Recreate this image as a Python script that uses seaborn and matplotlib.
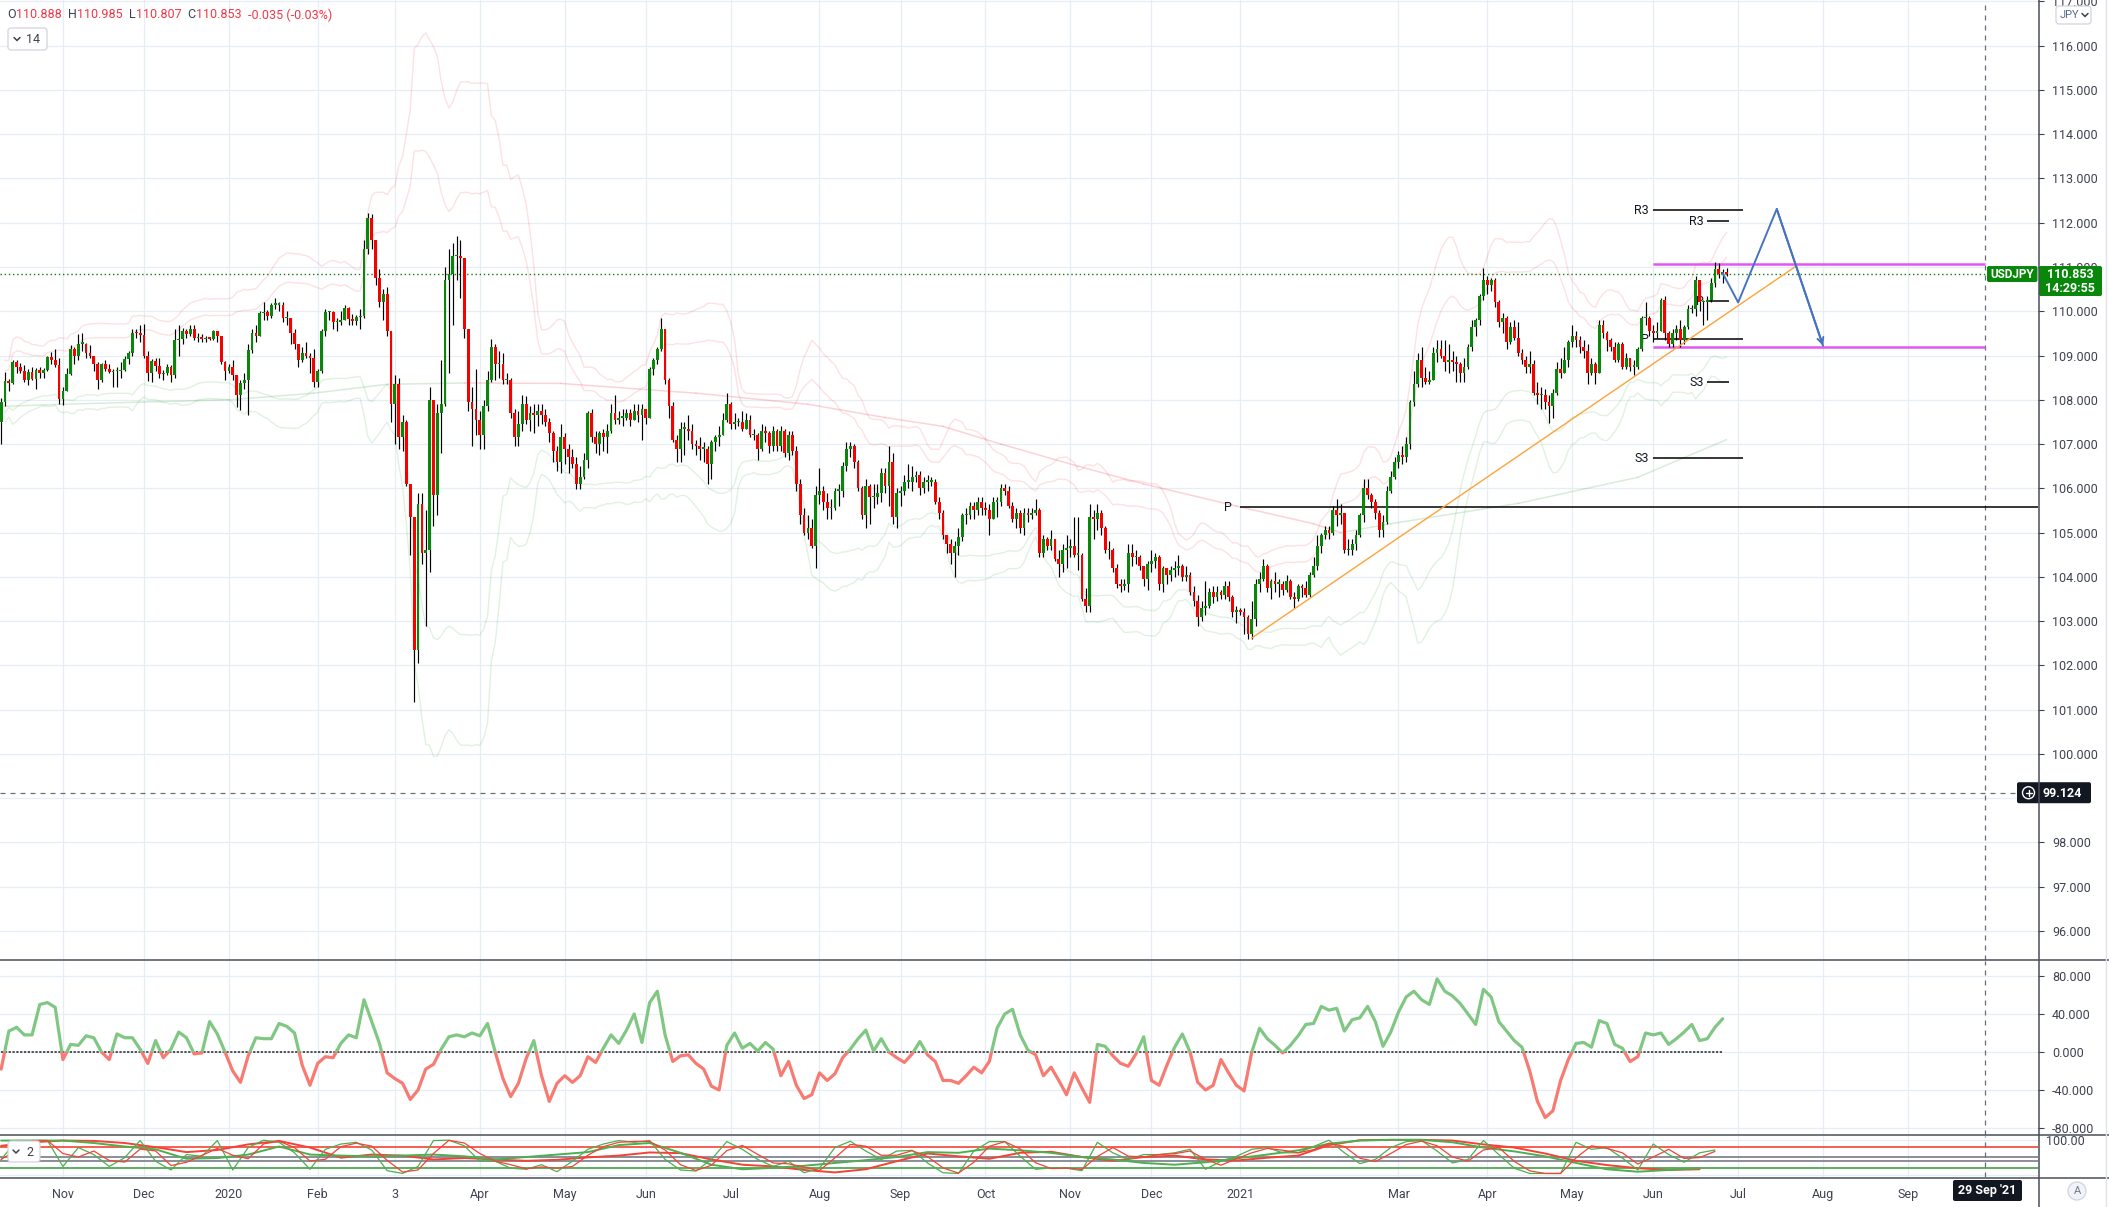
import numpy as np
import pandas as pd
import matplotlib
matplotlib.use("Agg")
import matplotlib.pyplot as plt
from matplotlib.patches import FancyBboxPatch, Rectangle, Circle
import seaborn as sns

# --- Data: USDJPY daily candles ---------------------------------------------
# one row per month, Oct 2019 starts on the 10th, Jun 2021 ends on the 28th
FIRST_SESSION = "2019-10-10"
FIRST_OPEN = 107.50

CLOSE_TXT = """
107.95 108.42 108.38 108.85 108.75 108.66 108.45 108.62 108.48 108.68 108.60 108.68 108.96 108.90 108.78 108.02
108.20 108.58 109.15 108.98 109.27 109.27 109.05 109.00 108.80 108.45 108.80 108.70 108.63 108.64 108.65 108.68 108.93 109.05 109.52 109.50 109.46
109.00 108.60 108.87 108.77 108.58 108.60 108.73 108.56 109.35 109.37 109.56 109.48 109.60 109.40 109.43 109.37 109.40 109.38 109.55 109.45 108.85 108.65
108.75 108.55 108.10 108.38 108.44 109.12 109.50 109.45 109.95 109.98 109.90 110.15 110.15 110.15 109.85 109.85 109.50 109.25 108.90 109.05 109.00 108.95 108.40
108.65 109.55 109.98 109.98 109.75 109.75 109.80 110.08 109.82 109.78 109.87 109.90 111.40 112.10 111.60 110.75 110.20 110.40 109.55 107.90
108.35 107.15 107.50 106.10 105.35 102.35 105.65 104.55 104.60 108.00 105.85 107.70 107.90 110.70 110.85 111.25 111.25 111.20 109.60 107.95 107.80 107.55
107.20 107.85 108.45 109.20 108.80 108.80 108.45 108.45 107.70 107.15 107.45 107.90 107.55 107.70 107.65 107.75 107.65 107.50 107.25 106.85 106.60 107.15
106.90 106.70 106.55 106.10 106.25 106.65 107.70 107.15 107.00 107.25 107.15 107.30 107.70 107.55 107.60 107.60 107.70 107.55 107.75 107.65 107.80
107.60 108.70 108.90 109.15 109.60 108.45 107.85 107.10 106.90 107.35 107.35 107.30 107.00 106.95 106.90 106.90 106.55 107.05 107.15 107.20 107.55 107.90
107.45 107.50 107.50 107.35 107.55 107.20 107.20 106.90 107.30 107.25 106.95 107.30 106.95 107.30 106.80 107.20 106.85 106.10 105.40 105.00 105.10 104.70 105.85
105.95 105.70 105.55 105.55 105.95 105.95 106.50 106.90 106.95 106.60 106.00 105.40 106.05 105.80 105.80 105.90 106.35 106.05 106.60 105.35 105.90
105.95 106.15 106.15 106.25 106.30 106.00 106.15 106.15 106.15 105.70 105.45 104.95 104.75 104.55 104.70 104.90 105.40 105.40 105.60 105.50 105.70 105.55
105.50 105.30 105.70 105.70 106.00 105.95 105.60 105.30 105.45 105.10 105.45 105.40 105.45 105.50 104.55 104.85 104.70 104.85 104.40 104.30 104.60 104.65
104.70 104.50 104.50 103.50 103.35 105.35 105.30 105.45 105.10 104.60 104.60 104.20 103.85 103.80 103.85 104.55 104.45 104.45 104.25 103.95 104.30
104.35 104.45 103.85 104.20 104.05 104.15 104.20 104.25 104.00 104.05 103.65 103.45 103.10 103.30 103.35 103.65 103.55 103.65 103.60 103.80 103.55 103.20 103.25
103.20 103.10 102.70 103.05 103.85 103.95 104.25 103.75 103.90 103.85 103.85 103.70 103.90 103.55 103.50 103.80 103.75 103.60 104.05 104.25 104.70
104.95 105.05 105.00 105.50 105.40 105.45 104.60 104.60 104.75 104.95 105.40 106.00 105.85 105.70 105.45 105.05 105.25 105.95 106.25 106.60
106.75 106.70 107.00 107.95 108.35 108.90 108.50 108.40 108.45 109.05 109.15 109.00 108.85 108.90 108.85 108.80 108.60 108.75 109.20 109.65 109.80 110.35 110.70
110.60 110.70 110.20 109.75 109.85 109.30 109.65 109.40 109.05 108.90 108.75 108.80 108.15 108.10 108.10 107.95 107.85 108.15 108.70 108.60 108.90 109.30
109.45 109.35 109.20 109.10 108.60 108.80 108.60 109.70 109.50 109.35 109.20 108.90 109.25 108.75 108.95 108.75 108.75 109.15 109.85 109.85 109.55
109.50 109.55 110.25 109.50 109.25 109.50 109.60 109.35 109.65 110.05 110.05 110.70 110.20 110.20 110.25 110.65 110.95 110.85 110.888 110.853
"""

HIGH_TXT = """
108.05 108.63 108.48 108.90 108.90 108.83 108.78 108.70 108.75 108.72 108.73 108.72 109.00 109.08 109.15 108.94
108.30 108.72 109.24 109.20 109.48 109.50 109.28 109.24 109.00 108.85 108.83 108.90 108.80 108.70 108.75 108.85 109.00 109.10 109.60 109.60 109.68
109.72 109.10 108.92 108.95 108.95 108.68 108.80 108.78 109.60 109.70 109.62 109.60 109.70 109.70 109.50 109.48 109.45 109.43 109.58 109.55 109.45 108.88
108.80 108.90 108.55 108.45 108.60 109.25 109.60 109.70 110.00 110.20 110.02 110.18 110.30 110.20 110.20 110.00 109.85 109.60 109.05 109.20 109.30 109.05 109.15
108.70 109.60 110.05 110.00 110.00 109.85 110.00 110.15 110.10 109.93 109.92 110.05 111.60 112.23 112.20 111.53 110.95 110.50 110.55 109.45
108.55 108.50 107.65 107.55 106.10 105.20 105.90 105.90 105.50 108.30 107.30 107.90 108.90 111.00 111.40 111.55 111.71 111.60 111.20 109.60 108.30 108.70
107.75 108.00 108.65 109.38 109.25 109.10 109.05 108.60 108.50 107.80 107.75 108.10 108.08 107.85 107.90 107.90 107.90 107.80 107.60 107.30 106.95 107.45
107.25 107.00 106.90 106.70 106.50 106.80 107.75 107.80 107.30 107.30 107.35 107.45 107.90 108.10 107.75 107.80 107.80 107.80 107.90 107.90 107.90
107.75 108.75 108.95 109.20 109.85 109.60 108.50 107.95 107.20 107.50 107.50 107.65 107.45 107.10 107.15 107.05 106.95 107.10 107.20 107.40 107.70 108.15
107.95 107.70 107.60 107.75 107.70 107.65 107.35 107.25 107.45 107.40 107.30 107.40 107.35 107.40 107.35 107.30 107.30 106.95 106.20 105.55 105.40 105.30 106.05
106.45 106.05 105.90 105.75 106.00 106.10 106.60 107.05 107.05 107.00 106.65 106.05 106.20 106.10 106.10 106.10 106.45 106.45 106.95 106.80 106.00
106.05 106.30 106.55 106.50 106.40 106.40 106.25 106.30 106.25 106.20 105.80 105.50 104.95 104.85 104.80 105.10 105.45 105.55 105.70 105.70 105.80 105.80
105.70 105.65 105.80 105.80 106.10 106.10 106.05 105.70 105.55 105.50 105.55 105.55 105.55 105.75 105.55 104.95 104.90 105.05 104.85 104.60 104.75 104.95
104.85 105.35 105.35 104.55 103.75 105.65 105.50 105.65 105.50 105.15 104.80 104.65 104.30 103.95 103.95 104.75 104.75 104.60 104.50 104.25 104.35
104.60 104.55 104.50 104.25 104.20 104.25 104.35 104.50 104.30 104.25 104.10 103.80 103.60 103.45 103.90 103.75 103.80 103.80 103.70 103.90 103.90 103.60 103.35
103.30 103.30 103.15 103.45 103.95 104.10 104.40 104.30 103.95 104.10 103.95 103.90 104.05 103.95 103.65 103.85 103.85 103.90 104.10 104.45 104.95
105.00 105.15 105.15 105.60 105.75 105.65 105.45 104.85 104.85 105.05 105.45 106.20 106.20 105.90 105.75 105.50 105.40 106.05 106.40 106.70
106.85 106.95 107.15 108.00 108.65 109.05 109.20 108.75 108.65 109.20 109.35 109.35 109.35 109.25 109.10 109.00 108.85 108.95 109.25 109.80 109.85 110.40 110.97
110.80 110.75 110.75 110.25 109.95 109.90 109.75 109.80 109.75 109.15 109.00 109.10 108.90 108.40 108.30 108.25 108.10 108.25 108.85 108.95 109.20 109.35
109.70 109.55 109.45 109.35 109.25 108.95 108.85 109.80 109.80 109.55 109.40 109.30 109.30 109.30 109.05 108.95 108.90 109.20 109.90 110.20 109.90
109.70 109.75 110.30 110.35 109.55 109.60 109.70 109.80 109.70 110.15 110.15 110.80 110.70 110.25 110.35 110.75 111.11 111.10 110.95 110.985
"""

LOW_TXT = """
107.00 107.85 108.20 108.35 108.60 108.60 108.40 108.33 108.45 108.25 108.50 108.50 108.64 108.80 108.75 107.90
107.89 108.20 108.57 108.82 108.90 109.10 108.94 108.95 108.65 108.25 108.40 108.65 108.60 108.30 108.30 108.50 108.65 108.80 109.00 109.40 109.30
108.95 108.43 108.40 108.65 108.50 108.45 108.55 108.40 108.50 109.00 109.25 109.40 109.45 109.35 109.30 109.30 109.30 109.34 109.35 109.30 108.80 108.45
108.60 108.45 107.84 107.77 108.25 107.65 109.05 109.30 109.45 109.80 109.80 109.85 110.05 110.00 109.75 109.70 109.25 109.15 108.75 108.85 108.95 108.60 108.30
108.30 108.60 109.45 109.80 109.60 109.55 109.70 109.80 109.70 109.70 109.70 109.60 109.85 111.30 111.40 110.60 110.10 109.80 109.45 107.50
107.00 106.90 106.85 106.05 104.50 101.18 102.05 104.30 102.90 104.10 105.15 105.40 106.80 107.85 108.60 109.70 110.70 110.30 109.40 107.75 106.95 107.20
106.90 106.90 107.75 108.40 108.45 108.50 108.35 108.35 107.60 106.95 106.95 107.30 107.45 107.30 107.25 107.40 107.45 107.40 107.05 106.60 106.40 106.35
106.55 106.35 106.45 105.99 105.99 106.20 106.45 107.05 106.80 106.75 106.85 106.80 107.25 107.45 107.45 107.40 107.55 107.40 107.55 107.50 107.10
107.45 107.60 108.55 108.80 109.10 108.35 107.60 107.05 106.60 106.60 106.75 107.10 106.90 106.75 106.65 106.60 106.10 106.20 106.85 106.95 107.20 107.50
107.35 107.35 107.40 107.30 107.35 107.15 107.10 106.65 106.85 107.05 106.80 106.85 106.85 106.85 106.70 106.65 106.75 105.95 105.20 104.95 104.85 104.65 104.20
105.65 105.50 105.30 105.30 105.50 105.60 105.80 106.40 106.70 106.45 105.95 105.30 105.10 105.20 105.55 105.65 105.70 105.90 105.60 105.20 105.10
105.60 105.85 106.00 105.95 106.15 105.85 105.90 105.95 106.05 105.65 105.30 104.85 104.55 104.30 104.00 104.50 104.80 105.20 105.30 105.30 105.40 105.40
105.40 104.95 105.30 105.35 105.60 105.85 105.55 105.25 105.10 105.00 104.95 105.25 105.30 105.40 104.45 104.45 104.60 104.60 104.35 104.00 104.10 104.20
104.45 104.45 104.15 103.45 103.20 103.20 104.85 105.05 104.95 104.55 104.40 104.10 103.75 103.65 103.70 103.65 104.25 104.30 104.15 103.80 103.70
104.10 104.20 103.70 103.65 103.85 103.90 104.00 104.05 103.90 103.90 103.60 103.35 102.90 103.00 103.15 103.30 103.40 103.45 103.50 103.50 103.45 103.10 102.95
103.15 102.70 102.60 102.59 102.90 103.65 103.90 103.65 103.50 103.65 103.55 103.60 103.65 103.50 103.30 103.45 103.55 103.55 103.55 104.00 104.15
104.55 104.85 104.85 104.95 105.15 105.20 104.55 104.50 104.50 104.60 104.90 105.25 105.75 105.55 105.30 104.90 104.90 105.20 105.90 106.20
106.45 106.55 106.60 106.90 107.85 108.30 108.30 108.35 108.35 108.45 108.85 108.95 108.65 108.60 108.65 108.40 108.40 108.40 108.70 109.10 109.45 109.70 110.25
110.40 110.45 110.10 109.65 109.50 109.15 109.25 109.35 109.00 108.80 108.60 108.60 108.10 107.90 107.80 107.80 107.48 107.60 108.10 108.50 108.60 108.75
109.20 109.20 109.05 108.95 108.35 108.55 108.35 108.60 109.40 109.10 109.10 108.85 108.85 108.70 108.70 108.65 108.55 108.70 109.10 109.70 109.45
109.30 109.40 109.55 109.35 109.20 109.20 109.35 109.20 109.25 109.60 109.95 109.90 110.00 109.70 109.80 110.20 110.55 110.75 110.65 110.807
"""

# momentum oscillator (middle pane), read every 2nd session
OSC_EVERY_2 = [
    -18, 22, 26, 18, 18, 50, 52, 47, -8, 8, 7, 17, 15, 0, -8, 19, 15, 15, 3, -12,
    12, -6, 3, 21, 15, -2, -1, 32, 19, 0, -20, -32, -4, 15, 14, 14, 30, 27, 20, -14,
    -35, -12, -5, -6, 9, 18, 15, 55, 32, 9, -22, -28, -33, -50, -40, -18, -13, 3, 16, 18,
    16, 20, 17, 30, 0, -28, -47, -33, -7, 12, -25, -52, -33, -25, -32, -25, -5, -11, 4, 18,
    9, 23, 40, 10, 52, 64, 18, -10, -4, -3, -12, -18, -36, -40, 7, 20, 4, 9, 1, 10,
    3, -25, -10, -35, -49, -45, -22, -30, -23, -6, 3, 14, 23, 1, 14, 0, -6, -11, -2, 11,
    -3, -10, -30, -30, -33, -25, -16, -22, -10, 25,
    40, 45, 18, 2, -3, -25, -16, -30, -45, -22, -38, -53, 8, 6, -4, -12, -15, -2, 16, -30,
    -35, -14, 5, 19, 0, -32, -40, -35, -8, -22, -35, -41, 0, 25, 14, 7, -1, 7, 17, 29,
    30, 48, 44, 46, 22, 34, 36, 48, 32, 6, 21, 42, 58, 64, 55, 50, 77, 64, 59, 51,
    40, 29, 66, 58, 32, 22, 12, 5, -20, -52, -69, -62, -30, -8, 9, 10, 5, 33, 30, 8,
    4, -10, -5, 20, 18, 20, 8, 14, 21, 29, 12, 14, 26, 35,
]

# stochastic pane: fast %K every 4th session, slow pair every 8th session
STOCH_K_EVERY_4 = [
    43, 97, 97, 97, 23, 77, 57, 23, 48, 97, 38, 13, 57, 52, 97, 13, 77, 98, 92, 62,
    15, 72, 87, 92, 70, 11, 3, 23, 97, 98, 82, 38, 38, 18, 15, 28, 8, 38, 72, 87,
    97, 92, 97, 43, 13, 10, 43, 94, 72, 43, 23, 38, 5, 18, 77, 95, 67, 43, 67, 69,
    33, 5, 3, 67, 94, 94, 52, 15, 19, 18, 11, 92, 62, 43, 57, 57, 62, 72, 15, 38,
    52, 72, 77, 62, 62, 80, 98, 62, 31, 43, 77, 94, 97, 67, 33, 43, 97, 57, 18, 3,
    3, 3, 92, 72, 77, 47, 13, 87, 57, 35, 62, 70,
]
STOCH_SLOW_RED_EVERY_8 = [
    82, 92, 97, 96, 90, 78, 64, 70, 86, 96, 77, 48, 57, 54, 43, 47, 43, 39, 42, 49,
    54, 63, 61, 43, 28, 23, 13, 6, 15, 38, 60, 52, 45, 62, 65, 50, 39, 50, 54, 43,
    40, 48, 54, 84, 98, 99, 99, 97, 86, 77, 60, 39, 27, 18, 13, 15,
]
STOCH_SLOW_GREEN_EVERY_8 = [
    97, 97, 97, 90, 80, 72, 45, 47, 57, 80, 57, 54, 52, 54, 57, 52, 43, 50, 57, 64,
    84, 90, 62, 28, 15, 19, 25, 33, 41, 50, 64, 62, 74, 69, 62, 50, 43, 33, 28, 35,
    46, 57, 69, 88, 97, 99, 99, 92, 77, 66, 52, 33, 15, 8, 13, 18,
]

# slow moving average drawn faintly on the price pane
SLOW_MA_DATES = ["2019-10-10", "2019-11-01", "2019-12-02", "2020-01-01", "2020-01-31",
                 "2020-02-27", "2020-03-26", "2020-04-30", "2020-06-18", "2020-07-29",
                 "2020-08-26", "2020-09-16", "2020-10-07", "2020-11-04", "2020-11-27",
                 "2020-12-31", "2021-01-28", "2021-02-08", "2021-02-25", "2021-04-13",
                 "2021-05-26", "2021-06-28"]
SLOW_MA_VALUES = [107.85, 107.90, 107.95, 108.00, 108.15, 108.35, 108.38, 108.37, 108.15, 107.90,
                  107.60, 107.40, 107.00, 106.50, 106.10, 105.60, 105.20, 105.00, 105.20, 105.66,
                  106.25, 107.10]

# drawings
TREND_DATES, TREND_LEVELS = ["2021-01-06", "2021-07-22"], [102.62, 111.02]
PATH_DATES = ["2021-06-25", "2021-07-01", "2021-07-15", "2021-08-02"]
PATH_LEVELS = [110.86, 110.20, 112.31, 109.22]
MONTH_PIVOTS = {"R3": 112.28, "P": 109.37, "S3": 106.68}
WEEK_PIVOTS = {"R3": 112.03, "P": 110.23, "S3": 108.40}
YEAR_PIVOT = 105.57
ZONE_LEVELS = [111.06, 109.20]
LAST_PRICE, LAST_TIMER = 110.853, "14:29:55"
CROSS_PRICE, CROSS_DATE, CROSS_LABEL = 99.124, "2021-09-29", "29 Sep '21"
HEADER = [("O", "110.888"), ("H", "110.985"), ("L", "110.807"), ("C", "110.853")]
HEADER_CHANGE = "-0.035 (-0.03%)"

MONTH_STARTS = ["2019-11-01", "2019-12-01", "2020-01-01", "2020-02-01", "2020-03-01",
                "2020-04-01", "2020-05-01", "2020-06-01", "2020-07-01", "2020-08-01",
                "2020-09-01", "2020-10-01", "2020-11-01", "2020-12-01", "2021-01-01",
                "2021-03-01", "2021-04-01", "2021-05-01", "2021-06-01", "2021-07-01",
                "2021-08-01", "2021-09-01"]
MONTH_LABELS = ["Nov", "Dec", "2020", "Feb", "3", "Apr", "May", "Jun", "Jul", "Aug", "Sep",
                "Oct", "Nov", "Dec", "2021", "Mar", "Apr", "May", "Jun", "Jul", "Aug", "Sep"]

PRICE_TICKS = list(range(96, 118))
OSC_TICKS = [80, 40, 0, -40, -80]

# --- Colours ------------------------------------------------------------------
UP, DOWN = "#08870b", "#f70000"
PINK, MINT = "#f23645", "#4caf50"
GRID = "#e6edf3"
TXT = "#3e4250"
DARK = "#131722"
SEP = "#4a4e5a"

# --- Prep ---------------------------------------------------------------------
close = np.array(CLOSE_TXT.split(), dtype=float)
high = np.array(HIGH_TXT.split(), dtype=float)
low = np.array(LOW_TXT.split(), dtype=float)
n = min(len(close), len(high), len(low))
close, high, low = close[:n], high[:n], low[:n]
opens = np.r_[FIRST_OPEN, close[:-1]]
high = np.maximum(high, np.maximum(opens, close))
low = np.minimum(low, np.minimum(opens, close))
x = np.arange(n)

sessions = pd.bdate_range(FIRST_SESSION, periods=600)


def bar_of(day):
    return int(sessions.searchsorted(pd.Timestamp(day)))


XL = -0.3
XR = XL + 2038 / 3.86
W, H = 2109, 1207

sns.set_style("white")
plt.rcParams["font.family"] = ["Roboto", "DejaVu Sans"]

fig = plt.figure(figsize=(W / 100, H / 100), dpi=100)


def pane(top, bottom):
    a = fig.add_axes([0, 1 - bottom / H, 2038 / W, (bottom - top) / H])
    a.set_xlim(XL, XR)
    for s in a.spines.values():
        s.set_visible(False)
    a.yaxis.tick_right()
    a.tick_params(axis="y", length=4, pad=6, labelsize=9, colors=TXT, width=0.8)
    a.set_xticks([bar_of(d) for d in MONTH_STARTS])
    a.tick_params(axis="x", length=0, labelbottom=False)
    a.grid(True, color=GRID, lw=0.9, zorder=0)
    a.set_axisbelow(True)
    return a


ax = pane(0, 960)
ax_osc = pane(961, 1135)
ax_st = pane(1136, 1177)

# --- Price pane ---------------------------------------------------------------
ax.set_ylim(95.345, 117.032)
ax.set_yticks(PRICE_TICKS)
# the 99 label sits under the crosshair price tag in the original, so it stays blank
ax.set_yticklabels(["" if v == 99 else f"{v:.3f}" for v in PRICE_TICKS])

# bollinger envelopes (20 sessions, 2 and 3 deviations)
s_close = pd.Series(close)
mid = s_close.rolling(20, min_periods=2).mean()
dev = s_close.rolling(20, min_periods=2).std(ddof=0)
for k in (2, 3):
    sns.lineplot(x=x, y=mid + k * dev, ax=ax, color=PINK, lw=1, alpha=0.15, zorder=1)
    sns.lineplot(x=x, y=mid - k * dev, ax=ax, color=MINT, lw=1, alpha=0.17, zorder=1)

ma_x = [bar_of(d) for d in SLOW_MA_DATES]
for i in range(len(ma_x) - 1):
    rising = SLOW_MA_VALUES[i + 1] >= SLOW_MA_VALUES[i]
    ax.plot(ma_x[i:i + 2], SLOW_MA_VALUES[i:i + 2], color=MINT if rising else PINK,
            lw=1.1, alpha=0.22, zorder=1)

# crosshair
cross_x = bar_of(CROSS_DATE)
for a in (ax, ax_osc, ax_st):
    a.axvline(cross_x, color="#6a6d78", lw=0.9, ls=(0, (4, 4)), zorder=2)
ax.axhline(CROSS_PRICE, color="#6a6d78", lw=0.9, ls=(0, (4, 4)), zorder=2)

# last price dotted line
ax.axhline(LAST_PRICE, color="#0a7d0a", lw=1.0, ls=(0, (1, 2)), zorder=2)

# pivots
yp_x = bar_of("2021-01-01")
ax.hlines(YEAR_PIVOT, yp_x, XR, color="black", lw=1.1, zorder=2)
ax.text(yp_x - 2.2, YEAR_PIVOT, "P", ha="right", va="center", fontsize=9, color=DARK, zorder=2)

m0, m1 = bar_of("2021-06-01"), bar_of("2021-07-02") + 0.3
w0, w1 = bar_of("2021-06-21"), bar_of("2021-06-28") + 0.5
for name, lvl in MONTH_PIVOTS.items():
    ax.hlines(lvl, m0, m1, color="black", lw=1.1, zorder=2)
    ax.text(m0 - 1.2, lvl, name, ha="right", va="center", fontsize=9, color=DARK, zorder=2)
for name, lvl in WEEK_PIVOTS.items():
    ax.hlines(lvl, w0, w1, color="black", lw=1.1, zorder=2)
    ax.text(w0 - 0.9, lvl, name, ha="right", va="center", fontsize=9, color=DARK, zorder=2)

ax.hlines(ZONE_LEVELS, m0, cross_x, color="#e356f0", lw=1.8, zorder=2)

# candles
ax.vlines(x, low, high, color="black", lw=0.85, zorder=3)
body_lo = np.minimum(opens, close)
body_h = np.maximum(np.abs(close - opens), 0.03)
ax.bar(x, body_h, bottom=body_lo, width=0.72, color=np.where(close >= opens, UP, DOWN),
       linewidth=0, zorder=4)

# trend line and projected path
sns.lineplot(x=[bar_of(d) for d in TREND_DATES], y=TREND_LEVELS, ax=ax,
             color="#ffa23a", lw=1.0, zorder=5)
path_x = [bar_of(d) for d in PATH_DATES]
sns.lineplot(x=path_x, y=PATH_LEVELS, ax=ax, color="#4673c0", lw=1.4, sort=False,
             estimator=None, zorder=6)
ax.annotate("", xy=(path_x[-1], PATH_LEVELS[-1]), xytext=(path_x[-2], PATH_LEVELS[-2]),
            arrowprops=dict(arrowstyle="->", color="#4673c0", lw=1.4, mutation_scale=11,
                            shrinkA=0, shrinkB=0), zorder=6)

# --- Oscillator pane ------------------------------------------------------------
ax_osc.set_ylim(-87.4, 95.8)
ax_osc.set_yticks(OSC_TICKS)
ax_osc.set_yticklabels([f"{v:.3f}" for v in OSC_TICKS])
osc_x = np.arange(len(OSC_EVERY_2)) * 2
ax_osc.hlines(0, 0, osc_x[-1], color="#22252d", lw=1.1, ls=(0, (1.5, 1)), zorder=2)
for col, base in (("#80c784", 0), ("#f77b72", -500)):
    sns.lineplot(x=osc_x, y=OSC_EVERY_2, ax=ax_osc, color=col, lw=2.3, zorder=3)
    ax_osc.lines[-1].set_clip_path(Rectangle((XL, base), XR - XL, 500, transform=ax_osc.transData))

# --- Stochastic pane ------------------------------------------------------------
ax_st.set_ylim(-7.1, 110)
ax_st.set_yticks([0, 100])
ax_st.set_yticklabels(["", "100.00"])
ax_st.tick_params(axis="y", length=0)
for lvl, col in ((80, "#f44336"), (50, "#787b86"), (40, "#787b86"), (20, "#43a047")):
    ax_st.axhline(lvl, color=col, lw=1.2, zorder=1)
k_x = np.arange(len(STOCH_K_EVERY_4)) * 4
k_d = pd.Series(STOCH_K_EVERY_4, dtype=float).rolling(2, min_periods=1).mean()
slow_x = np.arange(len(STOCH_SLOW_RED_EVERY_8)) * 8
sns.lineplot(x=slow_x, y=STOCH_SLOW_RED_EVERY_8, ax=ax_st, color="#f44336", lw=1.4, zorder=2)
sns.lineplot(x=slow_x, y=STOCH_SLOW_GREEN_EVERY_8, ax=ax_st, color="#4caf50", lw=1.4, zorder=2)
sns.lineplot(x=k_x, y=STOCH_K_EVERY_4, ax=ax_st, color="#4caf50", lw=0.9, zorder=3)
sns.lineplot(x=k_x, y=k_d, ax=ax_st, color="#f44336", lw=0.9, zorder=3)

ax_st.set_xticklabels(MONTH_LABELS)
ax_st.tick_params(axis="x", labelbottom=True, length=3, pad=5, labelsize=9, colors=TXT)
for a in (ax, ax_osc, ax_st):
    a.set_xlabel("")
    a.set_ylabel("")
    a.set_xlim(XL, XR)

# --- Overlay in pixel coordinates ---------------------------------------------------
ov = fig.add_axes([0, 0, 1, 1], zorder=10)
ov.set_xlim(0, W)
ov.set_ylim(H, 0)
ov.axis("off")
ov.patch.set_alpha(0)


def py(a, v):
    return H - a.transData.transform((0, v))[1]


for yy in (960, 1135, 1177.5):
    ov.plot([0, W], [yy, yy], color=SEP, lw=1.1)
ov.plot([2038.5, 2038.5], [0, H], color=SEP, lw=1.1)
ov.plot([2106, 2106], [0, H], color="#e0e3eb", lw=1)


def box(x0, y0, x1, y1, fc, ec="none", r=2):
    ov.add_patch(FancyBboxPatch((x0, y0), x1 - x0, y1 - y0,
                                boxstyle=f"round,pad=0,rounding_size={r}",
                                fc=fc, ec=ec, lw=0.9))


def chevron(cx, cy, col):
    ov.plot([cx - 3, cx, cx + 3], [cy - 1.5, cy + 1.5, cy - 1.5], color=col, lw=1.1)


# last price labels
yl = py(ax, LAST_PRICE)
box(1987, yl - 7.5, 2037.5, yl + 8.5, UP)
ov.text(2012, yl + 0.5, "USDJPY", ha="center", va="center", fontsize=8.5,
        color="white", fontweight="bold")
box(2039, yl - 7.5, 2102, yl + 22.5, UP)
ov.text(2070, yl + 1, f"{LAST_PRICE:.3f}", ha="center", va="center", fontsize=9,
        color="white", fontweight="bold")
ov.text(2070, yl + 15, LAST_TIMER, ha="center", va="center", fontsize=9,
        color="white", fontweight="bold")

# crosshair labels
yc = py(ax, CROSS_PRICE)
box(2017, yc - 10.5, 2091, yc + 10.5, DARK)
ov.add_patch(Circle((2028.5, yc), 6, fill=False, ec="white", lw=1))
ov.plot([2025.5, 2031.5], [yc, yc], color="white", lw=1)
ov.plot([2028.5, 2028.5], [yc - 3, yc + 3], color="white", lw=1)
ov.text(2062, yc + 0.5, f"{CROSS_PRICE:.3f}", ha="center", va="center", fontsize=9,
        color="white", fontweight="bold")
box(1953, 1180, 2022, 1201, DARK)
ov.text(1987.5, 1190.5, CROSS_LABEL, ha="center", va="center", fontsize=9,
        color="white", fontweight="bold")

# small buttons
box(8, 28, 47, 50, "white", "#d1d4dc", r=3)
chevron(17, 39, TXT)
ov.text(33, 39.5, "14", ha="center", va="center", fontsize=9, color=TXT)
box(8, 1141, 40, 1162, "white", "#d1d4dc", r=3)
chevron(16, 1151.5, TXT)
ov.text(30, 1152, "2", ha="center", va="center", fontsize=9, color=TXT)
box(2056, 6, 2091, 24, "white", "#d1d4dc", r=3)
ov.text(2069, 15.5, "JPY", ha="center", va="center", fontsize=8, color="#5b6a8a")
chevron(2085, 15, TXT)
ov.add_patch(Circle((2077, 1191), 9, fc="#f0f3fa", ec="#d1d4dc", lw=0.9))
ov.text(2077, 1191.5, "A", ha="center", va="center", fontsize=8, color="#787b86")

# OHLC header
renderer = fig.canvas.get_renderer()
hx = 7
for letter, value in HEADER:
    t = ov.text(hx, 15, letter, ha="left", va="center", fontsize=9, color=TXT)
    hx += t.get_window_extent(renderer).width + 0.5
    t = ov.text(hx, 15, value, ha="left", va="center", fontsize=9, color="#f23645")
    hx += t.get_window_extent(renderer).width + 6
ov.text(hx, 15, HEADER_CHANGE, ha="left", va="center", fontsize=9, color="#f23645")

fig.savefig("out.png", dpi=100)
